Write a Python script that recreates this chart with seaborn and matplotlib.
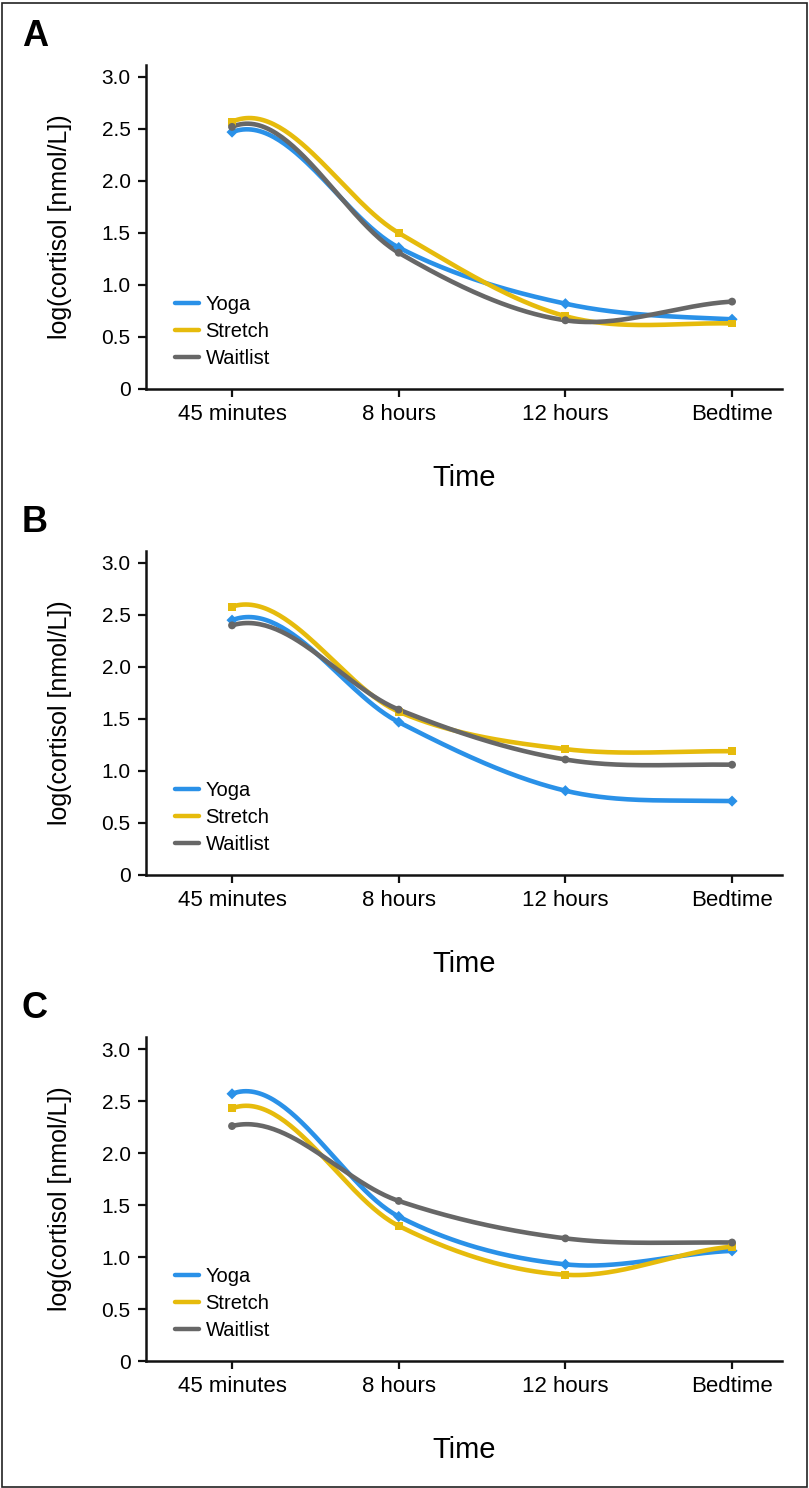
import numpy as np
import pandas as pd
import matplotlib
matplotlib.use("Agg")
import matplotlib.pyplot as plt
from matplotlib.lines import Line2D
from matplotlib.patches import Rectangle
import seaborn as sns

# Data
times = ["45 minutes", "8 hours", "12 hours", "Bedtime"]
groups = ["Yoga", "Stretch", "Waitlist"]
panels = ["A", "B", "C"]

a_yoga = [2.47, 1.36, 0.82, 0.67]
a_stretch = [2.57, 1.50, 0.70, 0.63]
a_waitlist = [2.52, 1.31, 0.66, 0.84]

b_yoga = [2.45, 1.47, 0.81, 0.71]
b_stretch = [2.58, 1.57, 1.21, 1.19]
b_waitlist = [2.40, 1.59, 1.11, 1.06]

c_yoga = [2.57, 1.39, 0.93, 1.06]
c_stretch = [2.43, 1.30, 0.83, 1.10]
c_waitlist = [2.26, 1.54, 1.18, 1.14]

panel_values = {
    "A": [a_yoga, a_stretch, a_waitlist],
    "B": [b_yoga, b_stretch, b_waitlist],
    "C": [c_yoga, c_stretch, c_waitlist],
}

colors = {"Yoga": "#2a91e8", "Stretch": "#e6bb0c", "Waitlist": "#676767"}
markers = {"Yoga": "D", "Stretch": "s", "Waitlist": "o"}


def smooth(y, n=60):
    # hermite spline through the points, only used to draw the smoothed line
    y = np.asarray(y, float)
    k = len(y)
    m = np.zeros(k)
    m[1:-1] = (y[2:] - y[:-2]) / 2
    m[0] = -0.75 * m[1]
    m[-1] = (y[-1] - y[-2]) / 2
    xs, ys = [], []
    for i in range(k - 1):
        t = np.linspace(0, 1, n, endpoint=(i == k - 2))
        h00 = 2 * t**3 - 3 * t**2 + 1
        h10 = t**3 - 2 * t**2 + t
        h01 = -2 * t**3 + 3 * t**2
        h11 = t**3 - t**2
        ys.append(h00 * y[i] + h10 * m[i] + h01 * y[i + 1] + h11 * m[i + 1])
        xs.append(i + t)
    return np.concatenate(xs), np.concatenate(ys)


sns.set_style("ticks")
plt.rcParams["font.family"] = ["Liberation Sans", "DejaVu Sans"]
plt.rcParams["text.color"] = "black"
plt.rcParams["axes.labelcolor"] = "black"
plt.rcParams["xtick.color"] = "black"
plt.rcParams["ytick.color"] = "black"

fig = plt.figure(figsize=(8.09, 14.88), dpi=100)
fig.patches.append(Rectangle((0.002, 0.001), 0.995, 0.997, transform=fig.transFigure,
                             fill=False, edgecolor="#222222", linewidth=1.2))

bottoms = [0.7386, 0.4120, 0.0853]
for letter, bottom in zip(panels, bottoms):
    ax = fig.add_axes([0.1805, bottom, 0.7862, 0.2177])

    rows, pts = [], []
    for g, vals in zip(groups, panel_values[letter]):
        xs, ys = smooth(vals)
        rows.append(pd.DataFrame({"x": xs, "y": ys, "group": g}))
        pts.append(pd.DataFrame({"x": np.arange(len(times)), "y": vals, "group": g}))
    curve_df = pd.concat(rows, ignore_index=True)
    pts_df = pd.concat(pts, ignore_index=True)

    sns.lineplot(data=curve_df, x="x", y="y", hue="group", palette=colors,
                 estimator=None, sort=False, linewidth=3.3, legend=False, ax=ax)
    sns.scatterplot(data=pts_df, x="x", y="y", hue="group", style="group",
                    palette=colors, markers=markers, s=32, linewidth=0,
                    legend=False, ax=ax, zorder=3)

    ax.set_xlim(-0.516, 3.3)
    ax.set_ylim(0, 3.115)
    ax.set_xticks(range(len(times)))
    ax.set_xticklabels(times)
    ax.set_yticks([0, 0.5, 1.0, 1.5, 2.0, 2.5, 3.0])
    ax.set_yticklabels(["0", "0.5", "1.0", "1.5", "2.0", "2.5", "3.0"])
    ax.tick_params(axis="both", length=6, width=1.6, color="#111111")
    ax.tick_params(axis="x", labelsize=16, pad=5)
    ax.tick_params(axis="y", labelsize=15, pad=5)
    sns.despine(ax=ax)
    for s in ["left", "bottom"]:
        ax.spines[s].set_linewidth(1.8)
        ax.spines[s].set_color("#111111")

    ax.set_xlabel("Time", fontsize=21, labelpad=28)
    ax.set_ylabel("log(cortisol [nmol/L])", fontsize=18, labelpad=21)

    handles = [Line2D([0], [0], color=colors[g], lw=3.2) for g in groups]
    ax.legend(handles, groups, loc="upper left", bbox_to_anchor=(0.046, 0.29),
              frameon=False, fontsize=14.5, handlelength=1.2, handletextpad=0.3,
              labelspacing=0.4, borderpad=0, borderaxespad=0)

    fig.text(0.027, bottom + 0.2177 + 0.0192, letter, fontsize=26,
             fontweight="bold", va="center", ha="left")

fig.savefig("out.png", dpi=100)
